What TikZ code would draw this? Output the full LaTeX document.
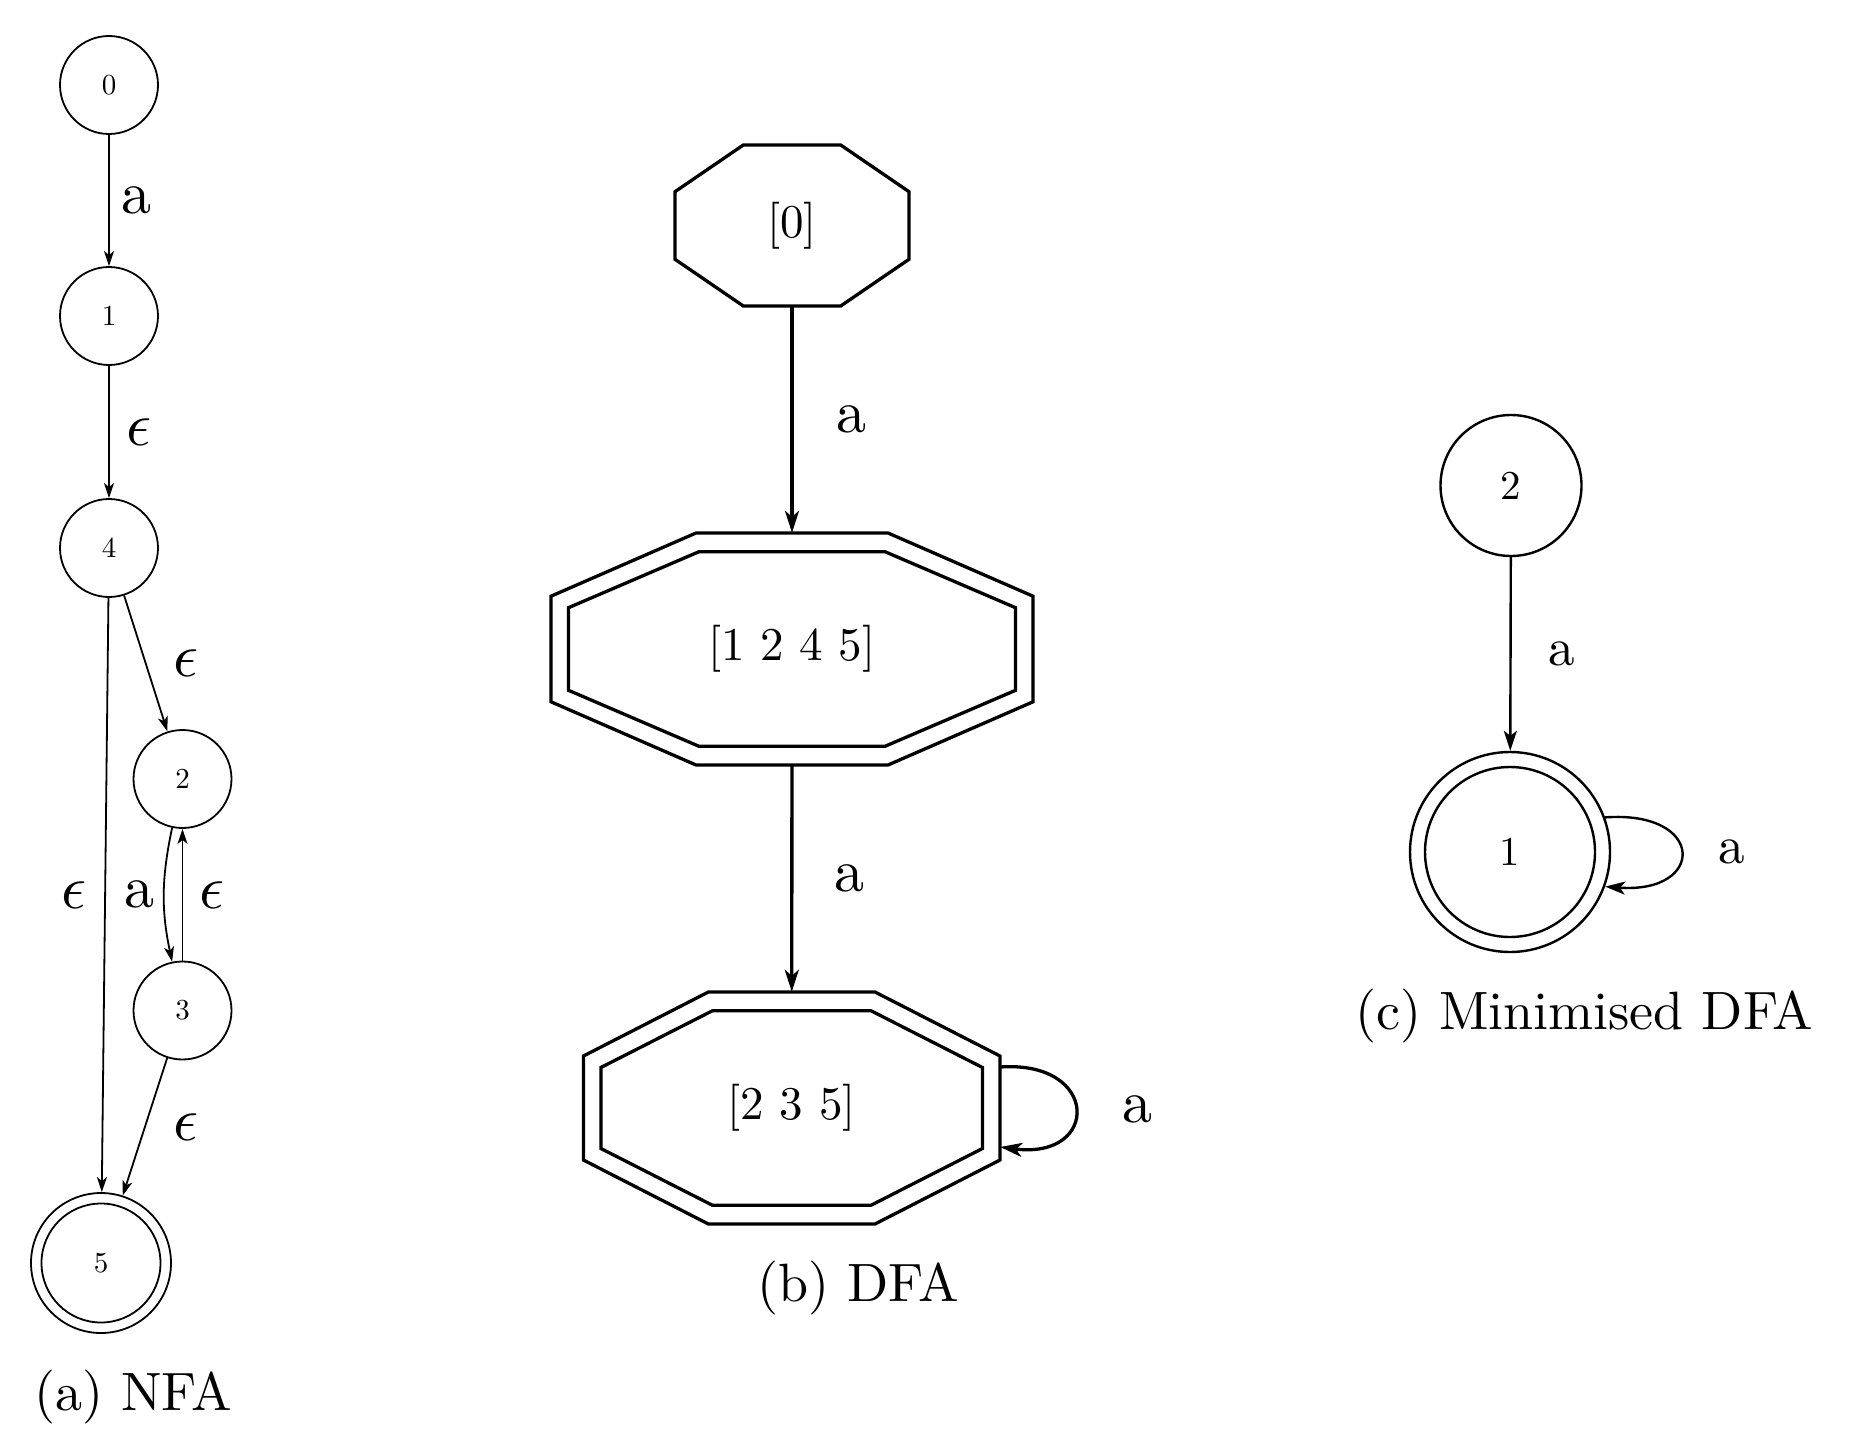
\documentclass[tikz,border=0pt]{standalone}
\usepackage{fontspec}
\setmainfont{lmroman10-regular}[Extension=.otf]
\usetikzlibrary{arrows.meta,calc}
\font\epsnfa=cmmi10 at 62pt
\newcommand\eps{{\epsnfa\char"0F}}
\newcommand\dfaoct[5]{%
  \draw[dfaline, shift={(#1.center)}] (-#2,-#4) -- (#2,-#4) -- (#3,-#5) -- (#3,#5) -- (#2,#4) -- (-#2,#4) -- (-#3,#5) -- (-#3,-#5) -- cycle;}
\tikzset{
  nfanode/.style={circle, draw, line width=1.8pt, minimum size=98pt, inner sep=0pt, font=\fontsize{29}{35}\selectfont},
  nfaedge/.style={-{Stealth[length=15pt,width=10pt,inset=4pt]}, line width=1.8pt},
  elbl/.style={inner sep=0pt, font=\fontsize{60}{72}\selectfont},
  dfabox/.style={rectangle, inner sep=0pt, font=\fontsize{47}{56}\selectfont},
  dfaline/.style={line width=3.3pt, line join=miter},
  dfaedge/.style={-{Stealth[length=22pt,width=14pt,inset=6pt]}, line width=3.3pt},
  minnode/.style={circle, draw, line width=2.4pt, inner sep=0pt, font=\fontsize{41}{49}\selectfont},
  minedge/.style={-{Stealth[length=20pt,width=13pt,inset=5pt]}, line width=2.4pt},
  mlbl/.style={inner sep=0pt, font=\fontsize{53}{63}\selectfont},
  capt/.style={anchor=base, inner sep=0pt, font=\fontsize{54}{64}\selectfont},
}
\begin{document}
\begin{tikzpicture}[x=1pt, y=-1pt]
\useasboundingbox (0,0) rectangle (1868,1450);
% ---------- (a) NFA ----------
\node[nfanode] (n0) at (109,85) {0};
\node[nfanode] (n1) at (109,316) {1};
\node[nfanode] (n4) at (109,548) {4};
\node[nfanode] (n2) at (182.5,779) {2};
\node[nfanode] (n3) at (182.5,1010.5) {3};
\node[nfanode, minimum size=140pt] (n5) at (101,1263) {5};
\draw[line width=1.8pt] (n5.center) circle[radius=59.5];
\draw[nfaedge] (n0) -- (n1) node[elbl, midway, xshift=27.5pt] {a};
\draw[nfaedge] (n1) -- (n4) node[elbl, midway, xshift=30pt] {\eps};
\draw[nfaedge] (n4) -- (n2) node[elbl, midway, xshift=40pt] {\eps};
\draw[nfaedge] (n4) -- (n5) node[elbl, midway, xshift=-31.5pt] {\eps};
\draw[nfaedge] (n2) to[bend right=12] node[elbl, midway, xshift=-24pt] {a} (n3);
\draw[nfaedge] (n3) -- (n2) node[elbl, midway, xshift=30pt] {\eps};
\draw[nfaedge] (n3) -- (n5) node[elbl, midway, xshift=41pt] {\eps};
\node[capt] (capa) at (133,1410) {(a) NFA};
% ---------- (b) DFA ----------
\node[dfabox, minimum width=234pt, minimum height=161pt] (d0) at (792,225.5) {[0]};
\node[dfabox, minimum width=482pt, minimum height=232pt] (d1) at (792,649) {[1 2 4 5]};
\node[dfabox, minimum width=416.6pt, minimum height=232pt] (d2) at (791.7,1108) {[2 3 5]};
\dfaoct{d0}{48.7}{117}{80.5}{33.8}
\dfaoct{d1}{96}{241}{116}{52.8}
\dfaoct{d1}{93}{223.5}{97.3}{41.3}
\dfaoct{d2}{83.3}{208.3}{116}{52}
\dfaoct{d2}{79.2}{190.8}{97.3}{40.5}
\draw[dfaedge] (d0) -- (d1) node[elbl, midway, xshift=59pt] {a};
\draw[dfaedge] (d1) -- (d2) node[elbl, midway, xshift=58pt] {a};
\draw[dfaedge] ($(d2.east)+(0,-41)$) .. controls ($(d2.east)+(100,-48)$) and ($(d2.east)+(100,52)$) .. ($(d2.east)+(0,39)$) node[elbl, pos=0.5, xshift=62pt] {a};
\node[capt] (capb) at (858,1301.7) {(b) DFA};
% ---------- (c) Minimised DFA ----------
\node[minnode, minimum size=141pt] (m2) at (1511,485.5) {2};
\node[minnode, minimum size=200pt] (m1) at (1510,852) {1};
\draw[line width=2.4pt] (m1.center) circle[radius=85];
\draw[minedge] (m2) -- (m1) node[mlbl, midway, xshift=51.5pt] {a};
\draw[minedge] (m1.20) .. controls ($(m1.center)+(196,-42)$) and ($(m1.center)+(196,42)$) .. (m1.-20) node[mlbl, pos=0.5, xshift=51pt] {a};
\node[capt] (capc) at (1584,1029) {(c) Minimised DFA};
\end{tikzpicture}
\end{document}
